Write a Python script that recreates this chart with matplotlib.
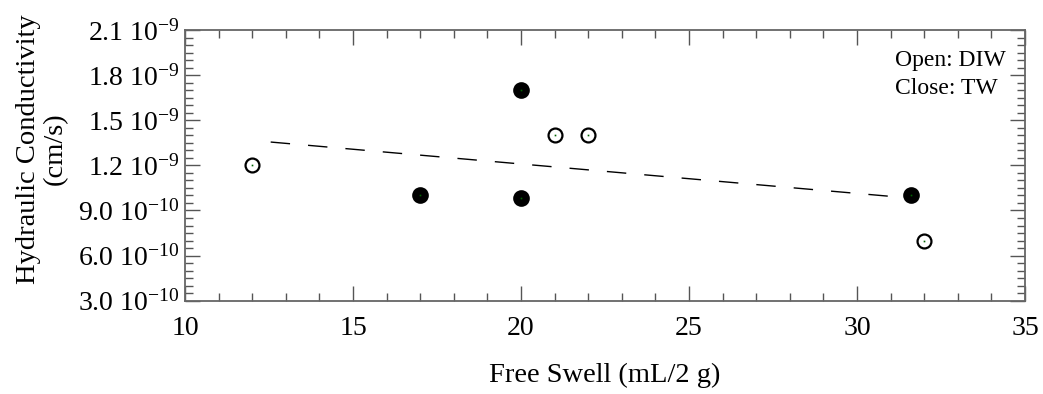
import matplotlib
matplotlib.use("Agg")
import matplotlib.pyplot as plt
from matplotlib.ticker import MultipleLocator, FuncFormatter
import math

plt.rcParams['font.family'] = ['Liberation Serif', 'DejaVu Serif']
plt.rcParams['mathtext.fontset'] = 'custom'
plt.rcParams['mathtext.rm'] = 'Liberation Serif'
plt.rcParams['mathtext.it'] = 'Liberation Serif:italic'

# Data
open_x = [12, 21, 22, 32]
open_y = [1.2e-9, 1.4e-9, 1.4e-9, 7.0e-10]
close_x = [17, 20, 20, 31.6]
close_y = [1.0e-9, 1.7e-9, 9.8e-10, 1.0e-9]
fit_x = [12.55, 31.6]
fit_y = [1.355e-9, 0.982e-9]

x_ticks = [10, 15, 20, 25, 30, 35]
y_ticks = [3.0e-10, 6.0e-10, 9.0e-10, 1.2e-9, 1.5e-9, 1.8e-9, 2.1e-9]

fig = plt.figure(figsize=(10.43, 3.94), dpi=100)
ax = fig.add_axes([185/1043, 1-300.7/394, 840/1043, 270.7/394])

ax.plot(fit_x, fit_y, color='black', lw=1.0, dashes=(14, 13), zorder=2)
ax.plot(close_x, close_y, 'o', ms=10.5, mfc='black', mec='black', mew=1.5, zorder=3)
ax.plot(open_x, open_y, 'o', ms=10, mfc='white', mec='black', mew=1.6, zorder=3)
ax.plot(open_x + close_x, open_y + close_y, 's', ms=1.2, mfc='#006400', mec='none', zorder=4)

ax.set_xlim(10, 35)
ax.set_ylim(3.0e-10, 2.1e-9)
ax.set_xticks(x_ticks)
ax.set_yticks(y_ticks)
ax.xaxis.set_minor_locator(MultipleLocator(1))
ax.yaxis.set_minor_locator(MultipleLocator(0.5e-10))

def fmt(v, pos):
    e = int(math.floor(math.log10(v)))
    m = v / 10**e
    return f"{m:.1f} 10$^{{{e}}}$"

ax.yaxis.set_major_formatter(FuncFormatter(fmt))
ax.xaxis.set_major_formatter(FuncFormatter(lambda v, p: f"{int(v)}"))

ax.tick_params(which='both', direction='in', top=True, right=True, labelsize=20, color='#555555', width=1.0)
ax.tick_params(which='major', length=11)
ax.tick_params(which='minor', length=6)
ax.tick_params(axis='x', which='major', pad=11)
ax.tick_params(axis='y', which='major', pad=4)
for s in ax.spines.values():
    s.set_color('#666666')
    s.set_linewidth(1.3)

fig.text(605/1043, 1-382/394, "Free Swell (mL/2 g)", fontsize=20.5, ha='center', va='baseline')
fig.text(42/1043, 1-149/394, "Hydraulic Conductivity\n(cm/s)", fontsize=20.5, ha='center', va='center',
         rotation=90, linespacing=1.12, multialignment='center')

ax.text(895/1043, 1-66/394, "Open: DIW", transform=fig.transFigure, ha='left', va='baseline', fontsize=17)
ax.text(895/1043, 1-94/394, "Close: TW", transform=fig.transFigure, ha='left', va='baseline', fontsize=17)

fig.savefig("out.png", dpi=100)
